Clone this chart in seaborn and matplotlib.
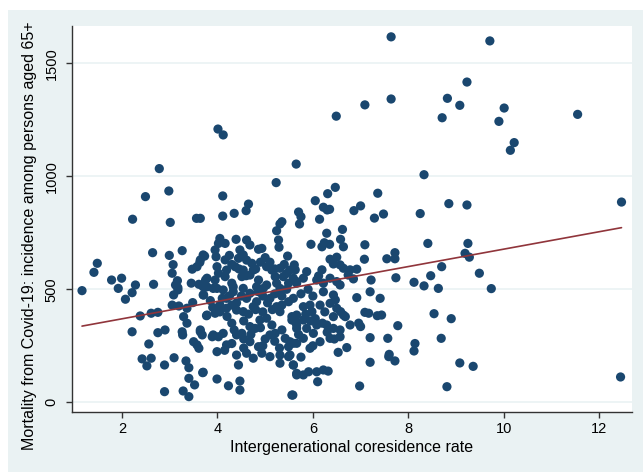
import numpy as np
import pandas as pd
import matplotlib
matplotlib.use("Agg")
import matplotlib.pyplot as plt
from matplotlib.patches import Rectangle
import seaborn as sns

# ---- data ----
coresidence = [
    7.64, 9.71, 4.01, 4.12, 9.23, 8.82, 9.08, 8.71, 10.01, 9.90, 10.22, 10.14, 11.55, 8.33, 12.47,
    6.49, 7.09, 7.64, 5.65, 6.47, 6.31, 6.05, 7.36, 6.22, 6.30, 6.35, 5.70, 5.75, 5.72, 6.14,
    6.86, 7.00, 7.29, 7.48, 8.25, 6.29, 6.62, 5.96, 6.19, 6.24, 6.35, 6.58, 6.64, 7.09, 7.08,
    7.55, 7.72, 7.72, 6.36, 6.50, 6.43, 6.57, 6.64, 6.78, 6.92, 6.74, 5.61, 5.63, 5.87, 6.19,
    6.12, 7.22, 7.74, 8.12, 7.20, 7.41, 6.92, 7.09, 7.17, 7.35, 7.44, 7.78, 6.96, 7.00, 6.78,
    6.68, 7.20, 7.57, 8.14, 8.12, 7.60, 7.59, 7.72, 7.20, 6.71, 6.53, 6.98, 6.10, 5.58, 6.43,
    6.58, 6.85,
    8.85, 9.23, 8.41, 9.25, 9.19, 9.28, 8.70, 8.47, 8.33, 8.63, 9.49, 9.74, 8.54, 8.90, 8.69,
    9.08, 9.36, 8.81, 12.45,
    5.23, 4.11, 4.65, 4.60, 4.11, 4.35, 3.64, 5.35, 5.31, 5.24, 5.28, 5.29, 5.47, 4.05, 4.02,
    3.95, 3.97, 4.16, 4.39, 4.61, 4.68, 4.86, 4.93, 3.70, 3.64,
    4.47, 4.54, 4.44, 4.61, 4.72, 4.75, 4.54, 4.37, 4.16, 4.19, 3.99, 4.02, 3.78, 3.95, 4.16,
    4.30, 4.51, 4.68, 4.86, 5.03, 5.14, 5.31, 5.38, 5.21, 5.24, 5.52, 5.59, 5.49, 5.66, 5.03,
    4.82, 4.33, 3.99, 3.70,
    3.78, 3.95, 4.19, 4.30, 4.40, 4.54, 4.75, 4.89, 5.03, 5.14, 5.24, 5.31, 5.49, 5.56, 5.63,
    5.66, 3.64, 3.91, 4.02, 4.12, 4.19, 3.99, 4.40, 4.51, 4.68, 4.79, 4.68, 4.86, 5.10, 5.21,
    5.35, 5.42, 5.52, 5.66, 5.49, 4.40, 4.61, 4.75, 4.93, 5.10, 5.31, 5.49, 5.31, 5.59, 5.66,
    4.44, 3.70, 3.99, 4.23, 4.47, 4.47, 5.56, 3.91, 4.12, 4.33, 4.54, 4.68, 4.96, 5.31, 3.70,
    4.19, 4.61, 4.82, 5.10, 4.05,
    2.78, 2.49, 2.98, 2.22, 3.01, 3.56, 2.64, 2.99, 3.26, 1.48, 1.41, 1.78, 1.99, 3.07, 3.05,
    3.16, 3.47, 3.57, 3.63, 3.73, 1.16, 1.92, 2.28, 2.66, 3.17, 3.45, 3.61, 3.75,
    2.07, 2.21, 2.38, 2.61, 2.75, 2.21, 2.56, 2.75, 2.90, 2.42, 2.61, 2.52, 2.89, 3.09, 3.34,
    3.40, 3.40, 3.52, 3.69, 2.89, 3.28, 3.40, 3.05, 3.19, 3.36, 3.48, 3.29, 3.36, 3.26, 3.27,
    3.08, 3.17, 3.12, 3.71, 3.78, 3.64, 3.68, 3.50, 3.57, 3.61, 3.77, 3.89,
    5.66, 5.80, 6.08, 6.22, 6.36, 6.50, 6.57, 6.22, 6.43, 6.47, 6.36, 6.50, 6.64, 6.15, 5.94,
    5.80, 5.98, 5.59, 5.66, 5.56, 5.66, 5.80, 5.87, 6.08, 6.29, 6.43, 6.57, 6.57, 6.01, 5.80,
    5.59, 5.94, 6.15, 6.36, 5.52, 5.59, 5.66, 5.80, 5.91, 6.08, 6.22, 6.32,
    4.25, 4.30, 4.45, 4.60, 4.80, 4.90, 5.00, 5.10, 5.20, 5.40, 5.45, 4.85, 4.95, 5.05, 5.20,
    5.35, 5.45, 4.50, 4.40, 4.25, 4.10, 3.85, 3.90, 4.05, 4.20, 4.30, 4.55, 4.65, 4.80, 4.95,
    5.15, 5.35, 4.35, 4.55, 4.70, 4.90, 5.00, 5.20, 5.30, 4.95, 4.30, 4.15, 4.55, 5.75, 5.90,
    6.00, 5.85, 6.05, 6.25, 6.20, 5.95, 5.70, 6.00, 6.30, 6.45, 5.75,
]
mortality = [
    1617, 1599, 1209, 1183, 1417, 1345, 1314, 1259, 1302, 1243, 1149, 1115, 1274, 1007, 886,
    1266, 1316, 1342, 1054, 951, 923, 892, 925, 863, 851, 854, 842, 821, 789, 810,
    848, 869, 815, 833, 835, 748, 765, 699, 688, 706, 699, 721, 688, 697, 633,
    635, 662, 635, 633, 642, 612, 608, 593, 586, 589, 563, 608, 586, 578, 586,
    559, 541, 551, 531, 489, 460, 463, 398, 394, 383, 386, 339, 350, 335, 342,
    379, 286, 283, 260, 227, 212, 202, 183, 177, 242, 221, 72, 91, 32, 379,
    401, 546,
    879, 873, 703, 703, 659, 642, 600, 560, 515, 504, 571, 503, 392, 370, 283,
    174, 159, 69, 112,
    972, 913, 877, 848, 824, 836, 814, 799, 789, 759, 718, 686, 647, 725, 703,
    674, 644, 703, 721, 718, 696, 677, 681, 652, 630,
    674, 652, 637, 629, 615, 585, 585, 600, 630, 585, 600, 571, 549, 541, 556,
    527, 556, 563, 541, 600, 585, 593, 556, 556, 527, 585, 549, 527, 527, 519,
    511, 511, 504, 511,
    386, 394, 416, 430, 408, 401, 423, 364, 372, 342, 423, 401, 445, 379, 357,
    327, 312, 298, 290, 305, 254, 224, 298, 305, 335, 327, 268, 246, 298, 305,
    320, 283, 268, 261, 246, 209, 217, 195, 217, 202, 209, 202, 173, 165, 121,
    165, 133, 103, 73, 94, 54, 32, 504, 497, 489, 504, 482, 504, 504, 475,
    460, 460, 445, 460, 430,
    1034, 910, 935, 810, 796, 814, 662, 650, 671, 615, 575, 541, 549, 609, 571,
    538, 589, 600, 619, 647, 494, 504, 519, 522, 507, 527, 522, 541,
    456, 485, 382, 394, 398, 312, 258, 308, 320, 192, 195, 161, 165, 197, 183,
    153, 106, 77, 131, 47, 50, 25, 430, 426, 416, 441, 379, 350, 312, 298,
    475, 497, 519, 475, 511, 320, 298, 268, 254, 239, 383, 290,
    534, 549, 541, 527, 549, 534, 519, 489, 475, 453, 438, 416, 386, 430, 430,
    423, 401, 460, 386, 364, 342, 364, 327, 342, 342, 327, 320, 290, 305, 283,
    261, 239, 268, 283, 209, 165, 128, 121, 135, 135, 143, 138,
    650, 610, 590, 560, 590, 620, 640, 620, 590, 610, 570, 490, 470, 440, 480,
    470, 500, 470, 440, 470, 460, 450, 420, 400, 380, 350, 360, 390, 410, 400,
    410, 430, 320, 280, 300, 330, 280, 270, 240, 250, 260, 230, 240, 480, 500,
    470, 390, 370, 400, 350, 360, 300, 250, 310, 280, 200,
]

x_ticks = [2, 4, 6, 8, 10, 12]
y_ticks = [0, 500, 1000, 1500]
x_label = "Intergenerational coresidence rate"
y_label = "Mortality from Covid-19: incidence among persons aged 65+"

df = pd.DataFrame({"x": coresidence, "y": mortality})

# ---- style ----
navy = "#1A476F"
maroon = "#90353B"
bluish = "#EAF2F3"

sns.set_theme(style="white")
plt.rcParams["font.family"] = ["Liberation Sans", "DejaVu Sans"]

W, H = 643, 472
fig = plt.figure(figsize=(W / 100, H / 100), dpi=100, facecolor="white")
bg = Rectangle((8 / W, 0), 1 - 8 / W, 1 - 10 / H, transform=fig.transFigure,
               facecolor=bluish, edgecolor="none", zorder=-10)
fig.patches.append(bg)
ax = fig.add_axes([72 / W, 1 - 412 / H, (632 - 72) / W, (412 - 26) / H])
ax.set_zorder(1)
ax.set_facecolor("white")

sns.scatterplot(data=df, x="x", y="y", ax=ax, color=navy, s=44, edgecolor="none",
                linewidth=0, zorder=3, legend=False)
sns.regplot(data=df, x="x", y="y", ax=ax, scatter=False, ci=None, truncate=True,
            line_kws={"color": maroon, "lw": 1.2, "zorder": 4})

ax.set_xlim(0.95, 12.69)
ax.set_ylim(-43, 1665)
ax.set_xticks(x_ticks)
ax.set_yticks(y_ticks)
ax.set_xticklabels([str(t) for t in x_ticks], fontsize=10.5, color="black")
ax.set_yticklabels([str(t) for t in y_ticks], fontsize=10.5, color="black",
                   rotation=90, va="center")
ax.yaxis.grid(True, color=bluish, lw=1.2, zorder=0)
ax.xaxis.grid(False)
ax.set_axisbelow(True)

for s in ["top", "right"]:
    ax.spines[s].set_visible(False)
for s in ["left", "bottom"]:
    ax.spines[s].set_color("#333333")
    ax.spines[s].set_linewidth(1.0)
ax.tick_params(axis="both", which="major", direction="out", length=4.5, width=1,
               color="#333333", bottom=True, left=True)
ax.tick_params(axis="x", pad=3)
ax.tick_params(axis="y", pad=5)

ax.set_xlabel(x_label, fontsize=11.5, color="black")
ax.set_ylabel(y_label, fontsize=11.5, color="black")
ax.xaxis.set_label_coords(0.499, -0.072)
ax.yaxis.set_label_coords(-0.062, 0.456)

fig.savefig("out.png", dpi=100, facecolor=fig.get_facecolor())
